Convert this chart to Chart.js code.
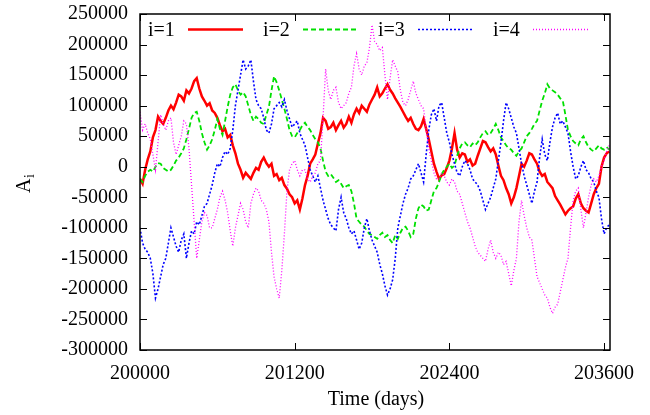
<!DOCTYPE html>
<html>
<head>
<meta charset="utf-8">
<script src="https://cdn.jsdelivr.net/npm/chart.js@4.4.0/dist/chart.umd.min.js"></script>
<style>
  html, body { margin: 0; padding: 0; background: #fff; }
  canvas { display: block; }
</style>
</head>
<body>
<canvas id="myChart" width="650" height="415"></canvas>
<script>
// time axis (days), one row = 200 days
const days = [
  200000, 200020, 200040, 200060, 200080, 200100, 200120, 200140, 200160, 200180,
  200200, 200220, 200240, 200260, 200280, 200300, 200320, 200340, 200360, 200380,
  200400, 200420, 200440, 200460, 200480, 200500, 200520, 200540, 200560, 200580,
  200600, 200620, 200640, 200660, 200680, 200700, 200720, 200740, 200760, 200780,
  200800, 200820, 200840, 200860, 200880, 200900, 200920, 200940, 200960, 200980,
  201000, 201020, 201040, 201060, 201080, 201100, 201120, 201140, 201160, 201180,
  201200, 201220, 201240, 201260, 201280, 201300, 201320, 201340, 201360, 201380,
  201400, 201420, 201440, 201460, 201480, 201500, 201520, 201540, 201560, 201580,
  201600, 201620, 201640, 201660, 201680, 201700, 201720, 201740, 201760, 201780,
  201800, 201820, 201840, 201860, 201880, 201900, 201920, 201940, 201960, 201980,
  202000, 202020, 202040, 202060, 202080, 202100, 202120, 202140, 202160, 202180,
  202200, 202220, 202240, 202260, 202280, 202300, 202320, 202340, 202360, 202380,
  202400, 202420, 202440, 202460, 202480, 202500, 202520, 202540, 202560, 202580,
  202600, 202620, 202640, 202660, 202680, 202700, 202720, 202740, 202760, 202780,
  202800, 202820, 202840, 202860, 202880, 202900, 202920, 202940, 202960, 202980,
  203000, 203020, 203040, 203060, 203080, 203100, 203120, 203140, 203160, 203180,
  203200, 203220, 203240, 203260, 203280, 203300, 203320, 203340, 203360, 203380,
  203400, 203420, 203440, 203460, 203480, 203500, 203520, 203540, 203560, 203580,
  203600, 203620, 203640
];

const seriesNames = ["i=1", "i=2", "i=3", "i=4"];

const a1 = [
  -20000, -28000, -5000, 12000, 25000, 48000, 60000, 82000, 75000, 70000,
  80000, 92000, 100000, 94000, 105000, 118000, 115000, 108000, 125000, 120000,
  128000, 140000, 145000, 128000, 115000, 108000, 100000, 104000, 92000, 88000,
  80000, 68000, 58000, 62000, 48000, 52000, 35000, 22000, 5000, -5000,
  -18000, -10000, -15000, -20000, -10000, -2000, -5000, 8000, 15000, 6000,
  0, 5000, -15000, -12000, -22000, -18000, -30000, -36000, -45000, -50000,
  -60000, -55000, -70000, -52000, -30000, -15000, 5000, 12000, 20000, 38000,
  55000, 80000, 75000, 62000, 65000, 72000, 60000, 68000, 75000, 64000,
  70000, 82000, 72000, 86000, 95000, 88000, 100000, 95000, 90000, 102000,
  110000, 118000, 130000, 115000, 120000, 128000, 135000, 126000, 120000, 112000,
  105000, 98000, 90000, 82000, 75000, 80000, 70000, 62000, 60000, 66000,
  78000, 62000, 45000, 25000, 5000, -8000, -20000, -14000, -12000, -2000,
  10000, 30000, 55000, 28000, 15000, 22000, 20000, 8000, 12000, 2000,
  5000, 18000, 30000, 42000, 40000, 32000, 25000, 30000, 20000, 2000,
  -15000, -22000, -35000, -45000, -60000, -50000, -35000, -15000, 5000, 0,
  10000, 22000, 20000, 12000, 5000, -8000, -15000, -12000, -25000, -30000,
  -35000, -48000, -55000, -62000, -70000, -78000, -72000, -68000, -65000, -52000,
  -45000, -60000, -68000, -72000, -75000, -60000, -45000, -35000, -28000, 0,
  15000, 22000, 25000
];

const a2 = [
  -20000, -25000, -15000, -8000, -5000, -8000, 0, 6000, 5000, -2000,
  -5000, -8000, -5000, 2000, 10000, 15000, 22000, 30000, 45000, 62000,
  80000, 88000, 90000, 75000, 55000, 40000, 28000, 35000, 45000, 60000,
  78000, 62000, 52000, 75000, 98000, 118000, 130000, 135000, 125000, 118000,
  122000, 115000, 100000, 85000, 75000, 82000, 78000, 72000, 70000, 85000,
  98000, 125000, 148000, 138000, 125000, 110000, 95000, 78000, 60000, 50000,
  48000, 55000, 60000, 68000, 72000, 65000, 60000, 52000, 45000, 40000,
  30000, 10000, -8000, -15000, -12000, -18000, -25000, -22000, -28000, -35000,
  -32000, -30000, -40000, -60000, -85000, -90000, -95000, -98000, -105000, -110000,
  -112000, -115000, -118000, -112000, -108000, -115000, -112000, -120000, -125000, -112000,
  -118000, -108000, -100000, -98000, -105000, -115000, -110000, -85000, -68000, -62000,
  -65000, -72000, -70000, -55000, -40000, -35000, -25000, -12000, -5000, 0,
  5000, -2000, 2000, 18000, 30000, 38000, 40000, 35000, 32000, 38000,
  35000, 40000, 48000, 55000, 58000, 52000, 55000, 62000, 70000, 60000,
  48000, 42000, 35000, 30000, 28000, 22000, 18000, 25000, 30000, 40000,
  50000, 55000, 62000, 70000, 75000, 92000, 108000, 120000, 135000, 128000,
  125000, 122000, 118000, 112000, 108000, 85000, 60000, 50000, 42000, 38000,
  35000, 45000, 50000, 40000, 32000, 28000, 25000, 30000, 35000, 30000,
  28000, 32000, 28000
];

const a3 = [
  -100000, -125000, -135000, -140000, -150000, -175000, -215000, -200000, -180000, -160000,
  -150000, -125000, -100000, -115000, -130000, -140000, -120000, -110000, -150000, -125000,
  -105000, -110000, -90000, -95000, -80000, -65000, -60000, -45000, -30000, -10000,
  5000, 0, 15000, 25000, 20000, 30000, 60000, 100000, 125000, 150000,
  175000, 160000, 165000, 175000, 140000, 110000, 100000, 95000, 80000, 60000,
  55000, 70000, 95000, 100000, 105000, 98000, 110000, 92000, 78000, 65000,
  70000, 75000, 55000, 45000, 35000, 15000, -5000, -15000, -25000, -15000,
  -35000, -55000, -70000, -85000, -95000, -100000, -105000, -70000, -50000, -75000,
  -85000, -100000, -110000, -105000, -120000, -135000, -125000, -100000, -85000, -105000,
  -120000, -130000, -140000, -160000, -175000, -195000, -210000, -200000, -185000, -150000,
  -100000, -80000, -60000, -45000, -35000, -20000, -15000, -5000, 5000, -10000,
  -25000, 20000, 60000, 85000, 95000, 75000, 100000, 105000, 80000, 55000,
  40000, 20000, 5000, -10000, -15000, 0, 10000, 5000, -5000, -20000,
  -25000, -30000, -40000, -55000, -70000, -60000, -50000, -35000, -20000, 10000,
  40000, 75000, 105000, 95000, 80000, 65000, 55000, 30000, 5000, -15000,
  -30000, -45000, -60000, -40000, -25000, 15000, 45000, 20000, 10000, 40000,
  65000, 80000, 88000, 70000, 75000, 65000, 55000, 25000, 0, -20000,
  -15000, 0, 10000, -5000, -10000, -20000, -25000, -40000, -50000, -85000,
  -110000, -100000, -95000
];

const a4 = [
  90000, 60000, 70000, 55000, 45000, 20000, -5000, 40000, 85000, 70000,
  60000, 75000, 80000, 40000, 20000, 35000, 50000, 75000, 70000, 30000,
  -30000, -90000, -150000, -120000, -90000, -75000, -80000, -100000, -100000, -85000,
  -70000, -50000, -40000, -55000, -75000, -105000, -130000, -100000, -80000, -60000,
  -70000, -90000, -100000, -60000, -45000, -35000, -40000, -55000, -60000, -70000,
  -90000, -140000, -180000, -200000, -215000, -170000, -110000, -40000, -5000, 5000,
  10000, -5000, -15000, -5000, -5000, -20000, -25000, -15000, -10000, 5000,
  10000, 80000, 160000, 125000, 110000, 125000, 130000, 105000, 95000, 100000,
  105000, 120000, 130000, 165000, 185000, 160000, 150000, 165000, 170000, 195000,
  232000, 205000, 200000, 190000, 195000, 150000, 110000, 145000, 175000, 165000,
  155000, 125000, 105000, 100000, 110000, 125000, 140000, 120000, 110000, 100000,
  95000, 60000, 30000, 10000, -10000, -20000, -20000, -10000, -15000, -25000,
  -30000, -20000, -25000, -40000, -45000, -60000, -75000, -90000, -100000, -115000,
  -130000, -140000, -145000, -150000, -155000, -135000, -120000, -140000, -150000, -140000,
  -145000, -160000, -155000, -175000, -195000, -170000, -150000, -90000, -55000, -80000,
  -100000, -115000, -120000, -150000, -180000, -190000, -200000, -210000, -215000, -230000,
  -240000, -230000, -225000, -205000, -185000, -165000, -150000, -100000, -55000, -40000,
  -35000, -70000, -100000, -75000, -50000, -30000, -20000, -25000, -15000, 0,
  10000, 25000, 35000
];

const xTicks = [200000, 201200, 202400, 203600];
const yTicks = [-300000, -250000, -200000, -150000, -100000, -50000, 0, 50000, 100000, 150000, 200000, 250000];

const serif = "'Liberation Serif', 'DejaVu Serif', serif";

function pts(vals) {
  return vals.map((v, i) => ({ x: days[i], y: v }));
}

const styles = [
  { color: "#ff0000", width: 2.5, dash: [] },
  { color: "#00e000", width: 1.8, dash: [5, 3] },
  { color: "#0000ff", width: 1.6, dash: [2, 2] },
  { color: "#ff00ff", width: 1.3, dash: [1, 2] }
];

const allSeries = [a1, a2, a3, a4];

const datasets = allSeries.map((vals, i) => ({
  label: seriesNames[i],
  data: pts(vals),
  borderColor: styles[i].color,
  borderWidth: styles[i].width,
  borderDash: styles[i].dash,
  pointRadius: 0,
  tension: 0,
  fill: false,
  order: 4 - i
}));

// frame, inner ticks, key and axis titles drawn gnuplot style
const decor = {
  id: "decor",
  afterDatasetsDraw(chart) {
    const ctx = chart.ctx;
    const ca = chart.chartArea;
    const xs = chart.scales.x;
    const ys = chart.scales.y;
    ctx.save();
    ctx.strokeStyle = "#000";
    ctx.lineWidth = 1;
    ctx.setLineDash([]);
    ctx.beginPath();
    yTicks.forEach(v => {
      const y = Math.round(ys.getPixelForValue(v)) + 0.5;
      ctx.moveTo(ca.left, y); ctx.lineTo(ca.left + 7, y);
      ctx.moveTo(ca.right, y); ctx.lineTo(ca.right - 7, y);
    });
    xTicks.forEach(v => {
      const x = Math.round(xs.getPixelForValue(v)) + 0.5;
      ctx.moveTo(x, ca.bottom); ctx.lineTo(x, ca.bottom - 7);
      ctx.moveTo(x, ca.top); ctx.lineTo(x, ca.top + 7);
    });
    ctx.stroke();
    ctx.lineWidth = 1.5;
    ctx.strokeRect(ca.left, ca.top, ca.right - ca.left, ca.bottom - ca.top);

    // key
    ctx.font = "20px " + serif;
    ctx.fillStyle = "#000";
    ctx.textBaseline = "alphabetic";
    ctx.textAlign = "left";
    seriesNames.forEach((name, i) => {
      const x0 = 148 + i * 115;
      ctx.fillText(name, x0, 36);
      ctx.strokeStyle = styles[i].color;
      ctx.lineWidth = styles[i].width;
      ctx.setLineDash(styles[i].dash);
      ctx.beginPath();
      ctx.moveTo(x0 + 40, 29.5);
      ctx.lineTo(x0 + 95, 29.5);
      ctx.stroke();
    });
    ctx.setLineDash([]);

    // x title
    ctx.textAlign = "center";
    ctx.fillText("Time (days)", (ca.left + ca.right) / 2 + 1, 405);

    // y title A_i
    ctx.translate(30, 184);
    ctx.rotate(-Math.PI / 2);
    ctx.textAlign = "left";
    ctx.font = "20px " + serif;
    ctx.fillText("A", -9, 0);
    ctx.font = "14px " + serif;
    ctx.fillText("i", 6, 4);
    ctx.restore();
  }
};

new Chart("myChart", {
  type: "line",
  data: { datasets: datasets },
  options: {
    responsive: false,
    animation: false,
    devicePixelRatio: 1,
    layout: { padding: { left: 0, right: 40, top: 14, bottom: 0 } },
    plugins: {
      legend: { display: false },
      tooltip: { enabled: false },
      title: { display: false }
    },
    scales: {
      x: {
        type: "linear",
        min: 200000,
        max: 203646,
        grid: { display: false, drawTicks: false },
        border: { display: false },
        afterFit: s => { s.height = 65; },
        afterBuildTicks: s => { s.ticks = xTicks.map(v => ({ value: v })); },
        ticks: {
          color: "#000",
          font: { family: serif, size: 20 },
          padding: 12,
          maxRotation: 0,
          autoSkip: false,
          callback: v => String(v)
        }
      },
      y: {
        type: "linear",
        min: -300000,
        max: 250000,
        grid: { display: false, drawTicks: false },
        border: { display: false },
        afterFit: s => { s.width = 140; s.paddingTop = 0; s.paddingBottom = 0; },
        afterBuildTicks: s => { s.ticks = yTicks.map(v => ({ value: v })); },
        ticks: {
          color: "#000",
          font: { family: serif, size: 20 },
          padding: 12,
          autoSkip: false,
          callback: v => String(v)
        }
      }
    }
  },
  plugins: [decor]
});
</script>
</body>
</html>
